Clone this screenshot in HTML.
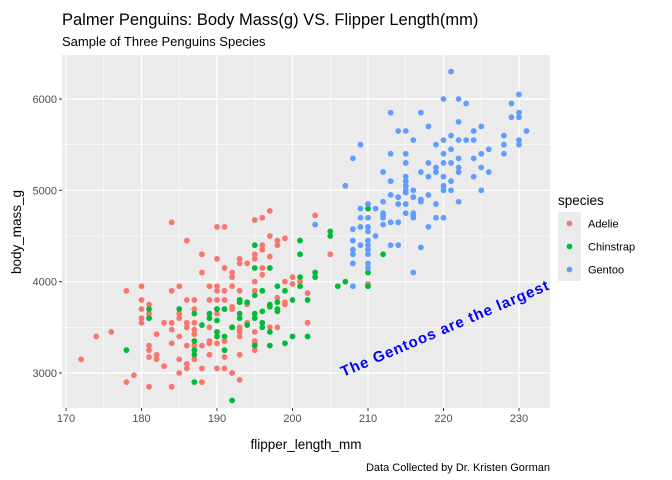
<!DOCTYPE html>
<html><head><meta charset="utf-8"><style>
body{margin:0;background:#fff;}
svg{font-family:"Liberation Sans",Arial,sans-serif;display:block}
</style></head><body>
<svg id="chart" width="672" height="480">
<text x="62" y="25" font-size="16.5" fill="#000">Palmer Penguins: Body Mass(g) VS. Flipper Length(mm)</text>
<text x="62" y="46" font-size="13" fill="#000">Sample of Three Penguins Species</text>
<rect x="62" y="55" width="488" height="353" fill="#ebebeb"/>
<g id="grid"></g>
<g id="pts"></g>
<g id="axes"></g>
<text x="306" y="449" font-size="13.5" text-anchor="middle">flipper_length_mm</text>
<text transform="translate(21,232) rotate(-90)" font-size="13.5" text-anchor="middle">body_mass_g</text>
<text transform="translate(447,333) rotate(-23)" font-size="15" font-weight="bold" letter-spacing="1" fill="#0000ff" text-anchor="middle">The Gentoos are the largest</text>
<text x="550" y="471" font-size="11" text-anchor="end">Data Collected by Dr. Kristen Gorman</text>
<g>
<text x="558" y="205" font-size="13.5">species</text>
<g id="leg"></g>
</g>
</svg>
<script>
const categories=["Adelie","Chinstrap","Gentoo"];
const colors=["#f8766d","#00ba38","#619cff"];
const xTicks=[170,180,190,200,210,220,230];
const yTicks=[3000,4000,5000,6000];
const adelieFlipper=[184,190,191,186,188,190,191,192,192,188,178,180,184,185,189,190,190,191,192,180,181,180,186,187,189,190,191,187,185,185,180,180,181,183,184,186,186,187,190,190,192,176,174,182,184,185,187,187,189,189,189,190,191,172,181,181,182,182,184,186,187,188,185,187,189,191,183,186,186,185,179,178,181,184,188,190,191,188,192,197,196,195,203,197,199,198,198,196,196,195,195,193,193,194,197,196,196,205,195,199,200,200,201,202,195,198,199,199,194,192,193,193,193,193,194,195,195,195,195,197,198,202,193,192,193,210,193,181];
const adelieMass=[4650,4600,4600,4450,4300,4250,4150,4100,4050,4100,3900,3950,3900,3950,3950,3950,3900,3900,3950,3800,3750,3700,3800,3800,3800,3800,3800,3700,3650,3600,3600,3550,3650,3550,3550,3550,3500,3550,3700,3650,3700,3450,3400,3425,3475,3400,3475,3425,3500,3350,3325,3325,3350,3150,3300,3175,3200,3150,3325,3300,3300,3300,3150,3150,3200,3175,3075,3100,3050,3000,2975,2900,2850,2850,3050,3050,3050,2900,3000,4775,4700,4675,4725,4500,4475,4450,4400,4400,4350,4300,4250,4250,4200,4200,4275,4150,4075,4300,4000,4000,4050,3975,4000,3875,3900,3825,3775,3750,3750,3725,3500,3475,3450,3400,3550,3450,3350,3325,3250,3500,3500,3550,3200,3000,2925,3975,3900,3250];
const chinFlipper=[181,181,185,187,189,191,188,190,192,190,190,191,187,187,187,178,191,187,192,193,195,201,201,195,197,205,205,203,203,201,201,198,199,196,195,193,193,194,197,197,198,198,198,200,202,196,193,193,195,195,192,194,196,196,197,200,202,199,197,195,206,207,210,210,210,212,190,189];
const chinMass=[3700,3600,3700,3650,3650,3700,3525,3575,3500,3450,3400,3400,3350,3250,3200,3250,3250,2900,2700,3800,4400,4450,4300,4150,4150,4550,4500,4100,4050,4050,3950,3950,3900,3900,3850,3800,3775,3775,3750,3725,3775,3700,3675,3800,3800,3675,3650,3600,3650,3600,3500,3525,3550,3500,3450,3400,3400,3325,3300,3300,3950,4000,3950,4100,4800,4300,3700,3600];
const gentooFlipper=[221,220,222,223,213,217,230,229,230,230,229,222,218,215,225,224,231,216,220,222,223,224,221,228,228,228,230,230,209,213,215,219,220,222,224,225,208,215,218,220,221,222,225,226,212,217,219,219,213,215,215,215,215,215,220,221,220,220,221,225,207,216,213,214,212,216,217,217,218,222,215,214,219,210,209,211,212,212,215,216,216,216,219,220,209,210,208,209,210,210,213,214,212,218,211,208,209,210,210,213,214,217,208,208,210,210,208,210,210,216,208,203,214,218,222,226,224,212,221];
const gentooMass=[6300,6000,6000,5950,5850,5850,6050,5950,5850,5800,5800,5750,5700,5650,5700,5650,5650,5550,5550,5550,5550,5550,5450,5600,5500,5400,5550,5500,5500,5400,5400,5500,5400,5350,5350,5400,5350,5300,5300,5300,5300,5250,5250,5200,5200,5200,5250,5200,5100,5150,5100,5050,5000,4975,5150,5100,5050,5000,5000,5000,5050,5000,4950,4925,4875,4925,4900,4875,4950,4875,4850,4850,4850,4850,4800,4800,4750,4725,4750,4750,4725,4700,4700,4700,4700,4700,4575,4600,4600,4550,4650,4650,4625,4600,4500,4450,4400,4450,4400,4400,4400,4375,4350,4300,4350,4300,4200,4200,4150,4100,3950,4625,5650,5150,5200,5450,5150,4700,5600];
const ns="http://www.w3.org/2000/svg";
const X0=62,X1=550,Y0=55,Y1=408;
function sx(v){return 66+(v-170)*7.55;}
function sy(v){return 373-(v-3000)*0.09133;}
function mk(tag,attrs,parent){const e=document.createElementNS(ns,tag);for(const k in attrs)e.setAttribute(k,attrs[k]);parent.appendChild(e);return e;}
const grid=document.getElementById('grid');
for(let v=175;v<235;v+=10){if(sx(v)<X1){const l=mk('line',{x1:sx(v),x2:sx(v),y1:Y0,y2:Y1,stroke:'#fff','stroke-width':0.6},grid);

}}
for(let v=3500;v<6000;v+=1000){const l=mk('line',{x1:X0,x2:X1,y1:sy(v),y2:sy(v),stroke:'#fff','stroke-width':0.6},grid);

}
const axes=document.getElementById('axes');
xTicks.forEach(v=>{const l=mk('line',{x1:sx(v),x2:sx(v),y1:Y0,y2:Y1,stroke:'#fff','stroke-width':1.2},grid);


const t=mk('line',{x1:sx(v),x2:sx(v),y1:Y1,y2:Y1+3,stroke:'#333','stroke-width':1},axes);


const tx=mk('text',{x:sx(v),y:Y1+14,'font-size':11,'text-anchor':'middle',fill:'#4d4d4d'},axes);
tx.textContent=v;

});
yTicks.forEach(v=>{const l=mk('line',{x1:X0,x2:X1,y1:sy(v),y2:sy(v),stroke:'#fff','stroke-width':1.2},grid);


const t=mk('line',{x1:X0-3,x2:X0,y1:sy(v),y2:sy(v),stroke:'#333','stroke-width':1},axes);


const tx=mk('text',{x:X0-5,y:sy(v)+4,'font-size':11,'text-anchor':'end',fill:'#4d4d4d'},axes);
tx.textContent=v;

});
const pts=document.getElementById('pts');
const series=[[adelieFlipper,adelieMass],[chinFlipper,chinMass],[gentooFlipper,gentooMass]];
series.forEach((s,i)=>{s[0].forEach((f,j)=>{const c=mk('circle',{cx:sx(f),cy:sy(s[1][j]),r:2.9,fill:colors[i]},pts);

});});
const leg=document.getElementById('leg');
categories.forEach((c,i)=>{const y=214+i*23;
const r=mk('rect',{x:558,y:y-2,width:23,height:23,fill:'#ebebeb'},leg);


const d=mk('circle',{cx:569.5,cy:y+9.5,r:2.9,fill:colors[i]},leg);


const t=mk('text',{x:588,y:y+13.5,'font-size':11},leg);
t.textContent=c;

});
</script>
</body></html>
